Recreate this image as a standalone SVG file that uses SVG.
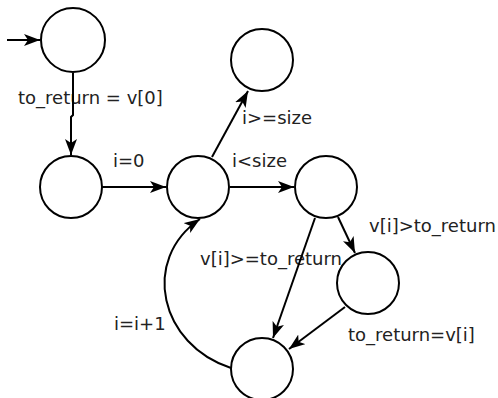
<svg xmlns="http://www.w3.org/2000/svg" width="498" height="398" viewBox="0 0 498 398">
<defs>
<marker id="arr" markerUnits="userSpaceOnUse" viewBox="0 0 16 12" refX="16" refY="6" markerWidth="16" markerHeight="12" orient="auto">
<path d="M0,0 L16,6 L0,12 L4,6 Z" fill="#000"/>
</marker>
<style>
.node{fill:#fff;stroke:#000;stroke-width:2}
.edge{fill:none;stroke:#000;stroke-width:2;marker-end:url(#arr)}
.lbl{font-family:"DejaVu Sans",sans-serif;font-size:18px;fill:#222}
</style>
</defs>
<rect width="498" height="398" fill="#fff"/>
<g id="labels">
<text class="lbl" x="18" y="104">to_return = v[0]</text>
<text class="lbl" x="113" y="167">i=0</text>
<text class="lbl" x="242" y="124">i&gt;=size</text>
<text class="lbl" x="232" y="167">i&lt;size</text>
<text class="lbl" x="369" y="232">v[i]&gt;to_return</text>
<text class="lbl" x="200" y="265">v[i]&gt;=to_return</text>
<text class="lbl" x="348" y="341">to_return=v[i]</text>
<text class="lbl" x="114" y="330">i=i+1</text>
</g>
<g id="connectors">
<path class="edge" d="M7,40 L40,40"/>
<path class="edge" d="M73,73 L73,115 L71,117 L71,155"/>
<path class="edge" d="M102,187 L166,187"/>
<path class="edge" d="M212,157 L248,91"/>
<path class="edge" d="M230,187 L294,187"/>
<path class="edge" d="M338,217 L355,253"/>
<path class="edge" d="M315,218 L273,338"/>
<path class="edge" d="M345,307 L289,349"/>
<path class="edge" d="M231,368 C160,345 140,260 200,219"/>
</g>
<g id="n_start"><circle class="node" cx="73" cy="40" r="32"/></g>
<g id="n_init"><circle class="node" cx="71" cy="187" r="31"/></g>
<g id="n_loop"><circle class="node" cx="198" cy="187" r="31"/></g>
<g id="n_end"><circle class="node" cx="262" cy="60" r="31"/></g>
<g id="n_cmp"><circle class="node" cx="326" cy="187" r="31"/></g>
<g id="n_set"><circle class="node" cx="368" cy="283" r="31"/></g>
<g id="n_inc"><circle class="node" cx="262" cy="369" r="31"/></g>
</svg>
